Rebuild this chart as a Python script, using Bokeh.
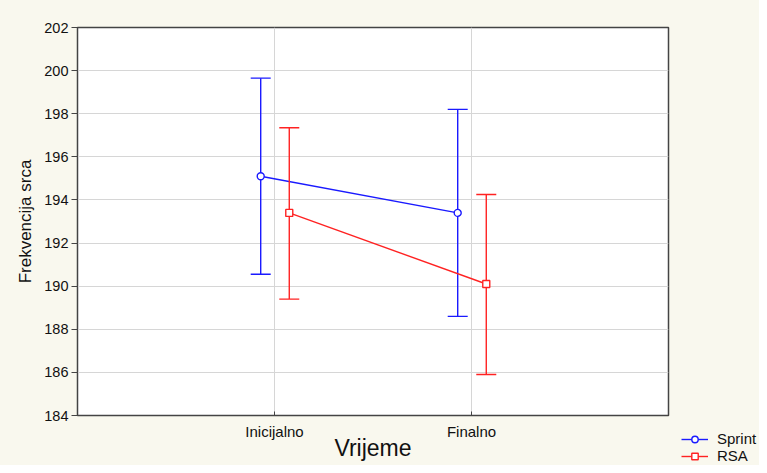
from bokeh.plotting import figure
from bokeh.models import (ColumnDataSource, FactorRange, Range1d, FixedTicker,
                          Legend, LegendItem, Spacer)
from bokeh.layouts import row, column
from bokeh.transform import dodge
from bokeh.embed import file_html
from bokeh.resources import INLINE

# ---- data ----
categories = ["Inicijalno", "Finalno"]
sprint_mean = [195.1, 193.4]
sprint_low = [190.55, 188.6]
sprint_high = [199.65, 198.2]
rsa_mean = [193.4, 190.1]
rsa_low = [189.4, 185.9]
rsa_high = [197.35, 194.25]
y_ticks = [184, 186, 188, 190, 192, 194, 196, 198, 200, 202]
series_names = ["Sprint", "RSA"]

FONT = "Liberation Sans"
BLUE = "#1a1aff"
RED = "#ff2222"
CREAM = "#f9f8ee"

p = figure(width=676, height=465, output_backend="svg", toolbar_location=None,
           x_range=FactorRange(*categories, range_padding=0.5),
           y_range=Range1d(184, 202),
           min_border_left=77, min_border_right=8, min_border_top=27,
           min_border_bottom=50)

p.background_fill_color = "white"
p.border_fill_color = CREAM
p.outline_line_color = "#444444"
p.outline_line_width = 1.5

p.xgrid.grid_line_color = "#d6d6d6"
p.ygrid.grid_line_color = "#d6d6d6"
p.grid.grid_line_width = 1

p.yaxis.ticker = FixedTicker(ticks=y_ticks)
p.yaxis.minor_tick_line_color = None
p.yaxis.major_tick_out = 6
p.yaxis.major_tick_in = 0
p.yaxis.major_label_standoff = 3
p.yaxis.axis_label = "Frekvencija srca"
p.yaxis.axis_label_standoff = 6
p.yaxis.axis_label_text_font = FONT
p.yaxis.axis_label_text_font_style = "normal"
p.yaxis.axis_label_text_font_size = "17px"
p.yaxis.major_label_text_font = FONT
p.yaxis.major_label_text_font_size = "14.5px"

p.xaxis.major_tick_in = 4
p.xaxis.major_tick_out = 0
p.xaxis.major_label_standoff = 7
p.xaxis.axis_label = "Vrijeme"
p.xaxis.axis_label_standoff = -8
p.xaxis.axis_label_text_font = FONT
p.xaxis.axis_label_text_font_style = "normal"
p.xaxis.axis_label_text_font_size = "23px"
p.xaxis.major_label_text_font = FONT
p.xaxis.major_label_text_font_size = "15px"

for ax in (p.xaxis, p.yaxis):
    ax.axis_line_color = "#444444"
    ax.major_tick_line_color = "#444444"
    ax.major_label_text_color = "#111111"
    ax.axis_label_text_color = "#111111"

src_s = ColumnDataSource(dict(cat=categories, mean=sprint_mean, low=sprint_low, high=sprint_high))
src_r = ColumnDataSource(dict(cat=categories, mean=rsa_mean, low=rsa_low, high=rsa_high))


def series(src, off, color, marker):
    x = dodge("cat", off, range=p.x_range)
    p.line(x=x, y="mean", source=src, line_color=color, line_width=1.4)
    p.segment(x0=x, y0="low", x1=x, y1="high", source=src,
              line_color=color, line_width=1.4)
    p.scatter(x=x, y="high", source=src, marker="dash", size=20,
              line_color=color, line_width=1.4)
    p.scatter(x=x, y="low", source=src, marker="dash", size=20,
              line_color=color, line_width=1.4)
    p.scatter(x=x, y="mean", source=src, marker=marker, size=7,
              line_color=color, fill_color="white", line_width=1.4)


series(src_s, -0.07, BLUE, "circle")
series(src_r, 0.075, RED, "square")

# ---- legend in a small figure at the bottom right ----
lg = figure(width=83, height=45, output_backend="svg", toolbar_location=None,
            x_range=Range1d(0, 1), y_range=Range1d(0, 1),
            min_border_left=0, min_border_right=0, min_border_top=0,
            min_border_bottom=0)
lg.axis.visible = False
lg.grid.visible = False
lg.outline_line_color = None
lg.background_fill_color = CREAM
lg.border_fill_color = CREAM

items = []
for name, color, marker in zip(series_names, [BLUE, RED], ["circle", "square"]):
    off = ColumnDataSource(dict(x=[-10, -11], y=[-10, -11]))
    r1 = lg.line(x="x", y="y", source=off, line_color=color, line_width=1.4)
    r2 = lg.scatter(x="x", y="y", source=off, marker="cross", size=16,
                    line_color=color, line_width=1.4)
    r3 = lg.scatter(x="x", y="y", source=off, marker=marker, size=7,
                    line_color=color, fill_color="white", line_width=1.4)
    items.append(LegendItem(label=name, renderers=[r1, r2, r3]))

legend = Legend(items=items, location=(5, 1), padding=0, margin=0, spacing=0,
                glyph_width=27, glyph_height=16, label_height=16,
                label_standoff=9, label_text_font=FONT,
                label_text_font_size="15px", label_text_color="#111111",
                background_fill_alpha=0, border_line_color=None)
lg.add_layout(legend, "center")

right = column(Spacer(width=83, height=420, styles={"background-color": CREAM}), lg,
               spacing=0, styles={"background-color": CREAM})
layout = row(p, right, spacing=0, styles={"background-color": CREAM})

open("out.html", "w").write(file_html(layout, INLINE))
